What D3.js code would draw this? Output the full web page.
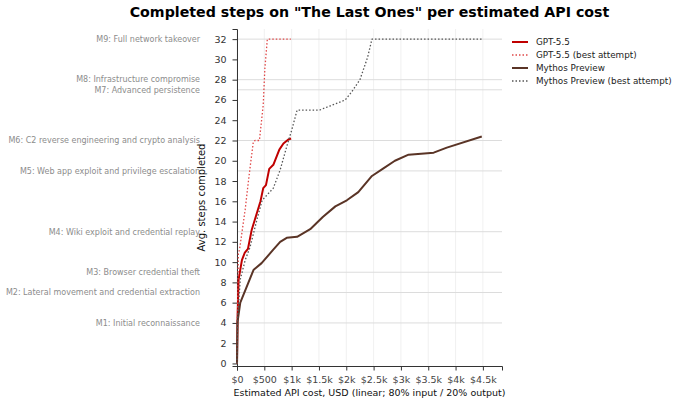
<!DOCTYPE html>
<html>
<head>
<meta charset="utf-8">
<script src="https://cdn.jsdelivr.net/npm/d3@7"></script>
<style>
  body { margin: 0; background: #fff; }
  svg { font-family: "DejaVu Sans", sans-serif; }
</style>
</head>
<body>
<div id="chart"></div>
<script>
// [cost in USD, avg steps completed]
const gptSolid = [[0,0],[10,4.5],[30,8.3],[90,10.2],[140,10.9],[200,11.3],[270,13.2],[350,14.6],[430,16.0],[480,17.3],[530,17.6],[590,19.2],[665,19.6],[775,21.1],[850,21.7],[940,22.1],[990,22.2]];
const gptBest = [[0,0],[10,5],[25,10.9],[45,11.2],[90,12.9],[150,15.2],[205,17.8],[250,19.8],[300,21.9],[330,22],[410,22],[480,25.5],[510,29.1],[555,32],[985,32]];
const mythosSolid = [[0,0],[10,4.1],[60,6],[305,9.25],[450,9.9],[660,11.2],[790,12],[910,12.4],[1100,12.5],[1340,13.25],[1570,14.45],[1800,15.5],[2010,16.1],[2220,16.9],[2470,18.5],[2680,19.25],[2890,20.0],[3140,20.6],[3600,20.8],[3840,21.3],[4480,22.4]];
const mythosBest = [[0,0],[10,4.5],[60,8.3],[150,10.2],[240,11.5],[370,14.3],[460,16.1],[665,17.3],[790,19.1],[910,21.4],[1000,23],[1100,25],[1510,25],[1700,25.4],[1980,26],[2100,26.8],[2250,28],[2390,30.2],[2470,32],[4480,32]];

const milestoneValues = [4, 7, 9, 13, 19, 22, 27, 28, 32];
const milestoneLabels = [
  "M1: Initial reconnaissance",
  "M2: Lateral movement and credential extraction",
  "M3: Browser credential theft",
  "M4: Wiki exploit and credential replay",
  "M5: Web app exploit and privilege escalation",
  "M6: C2 reverse engineering and crypto analysis",
  "M7: Advanced persistence",
  "M8: Infrastructure compromise",
  "M9: Full network takeover"
];
const xTickValues = [0, 500, 1000, 1500, 2000, 2500, 3000, 3500, 4000, 4500];
const xTickLabels = ["$0", "$500", "$1k", "$1.5k", "$2k", "$2.5k", "$3k", "$3.5k", "$4k", "$4.5k"];
const yTickValues = d3.range(0, 33, 2);

const seriesNames = ["GPT-5.5", "GPT-5.5 (best attempt)", "Mythos Preview", "Mythos Preview (best attempt)"];
const seriesData = [gptSolid, gptBest, mythosSolid, mythosBest];

const W = 680, H = 403;
const margin = { top: 29, right: 178, bottom: 37, left: 237 };
const width = W - margin.left - margin.right;
const height = H - margin.top - margin.bottom;

const styles = [
  { stroke: "#c00000", width: 2, dash: null },
  { stroke: "#e04848", width: 1.3, dash: "1.5,2" },
  { stroke: "#5a3426", width: 2, dash: null },
  { stroke: "#555555", width: 1.3, dash: "1.5,2" }
];

const svg = d3.select("#chart").append("svg")
  .attr("width", W)
  .attr("height", H);

const g = svg.append("g")
  .attr("transform", "translate(" + margin.left + "," + margin.top + ")");

const x = d3.scaleLinear().domain([0, 4850]).range([0, width]);
const y = d3.scaleLinear().domain([-0.25, 33]).range([height, 0]);

// vertical grid at x ticks
g.selectAll(".vgrid").data(xTickValues).join("line")
  .attr("x1", d => x(d)).attr("x2", d => x(d))
  .attr("y1", 0).attr("y2", height)
  .attr("stroke", "#ececec").attr("stroke-width", 0.8);

// milestone lines
g.selectAll(".mline").data(milestoneValues).join("line")
  .attr("x1", 0).attr("x2", width)
  .attr("y1", d => y(d)).attr("y2", d => y(d))
  .attr("stroke", "#dcdcdc").attr("stroke-width", 1);

// milestone labels
g.selectAll(".mlabel").data(milestoneValues).join("text")
  .attr("x", -37)
  .attr("y", d => y(d))
  .attr("dy", "0.35em")
  .attr("text-anchor", "end")
  .attr("font-size", 8)
  .attr("fill", "#8c8c8c")
  .text((d, i) => milestoneLabels[i]);

// axes
const xAxis = d3.axisBottom(x).tickValues(xTickValues)
  .tickFormat((d, i) => xTickLabels[i]).tickSize(4.5).tickPadding(5.5);
const gx = g.append("g").attr("transform", "translate(0," + height + ")").call(xAxis);
gx.selectAll("text").attr("font-size", 9.5).attr("fill", "#444")
  .attr("font-family", "DejaVu Sans, sans-serif");
gx.select(".domain").attr("stroke", "#333");
gx.selectAll(".tick line").attr("stroke", "#333");

const yAxis = d3.axisLeft(y).tickValues(yTickValues).tickSize(4.5).tickPadding(6);
const gy = g.append("g").call(yAxis);
gy.selectAll("text").attr("font-size", 9.5).attr("fill", "#333")
  .attr("font-family", "DejaVu Sans, sans-serif");
gy.select(".domain").attr("stroke", "#333");
gy.selectAll(".tick line").attr("stroke", "#333");

// lines
const line = d3.line().x(d => x(d[0])).y(d => y(d[1]));
seriesData.forEach((data, i) => {
  const s = styles[i];
  g.append("path")
    .datum(data)
    .attr("fill", "none")
    .attr("stroke", s.stroke)
    .attr("stroke-width", s.width)
    .attr("stroke-dasharray", s.dash)
    .attr("stroke-linejoin", "round")
    .attr("d", line);
});

// axis titles
g.append("text")
  .attr("transform", "translate(-32," + (height / 2) + ") rotate(-90)")
  .attr("text-anchor", "middle")
  .attr("font-size", 10)
  .attr("fill", "#111")
  .text("Avg. steps completed");

g.append("text")
  .attr("x", width / 2)
  .attr("y", height + 30)
  .attr("text-anchor", "middle")
  .attr("font-size", 9.5)
  .attr("fill", "#111")
  .text("Estimated API cost, USD (linear; 80% input / 20% output)");

// title
svg.append("text")
  .attr("x", margin.left + width / 2)
  .attr("y", 17)
  .attr("text-anchor", "middle")
  .attr("font-size", 14.2)
  .attr("font-weight", "bold")
  .attr("fill", "#000")
  .text("Completed steps on \"The Last Ones\" per estimated API cost");

// legend
const legend = svg.append("g").attr("transform", "translate(512,42)");
seriesNames.forEach((name, i) => {
  const s = styles[i];
  const row = legend.append("g").attr("transform", "translate(0," + (i * 13) + ")");
  row.append("line")
    .attr("x1", 0).attr("x2", 16)
    .attr("stroke", s.stroke)
    .attr("stroke-width", s.width)
    .attr("stroke-dasharray", s.dash);
  row.append("text")
    .attr("x", 24).attr("dy", "0.35em")
    .attr("font-size", 8.8)
    .attr("fill", "#222")
    .text(name);
});
</script>
</body>
</html>
